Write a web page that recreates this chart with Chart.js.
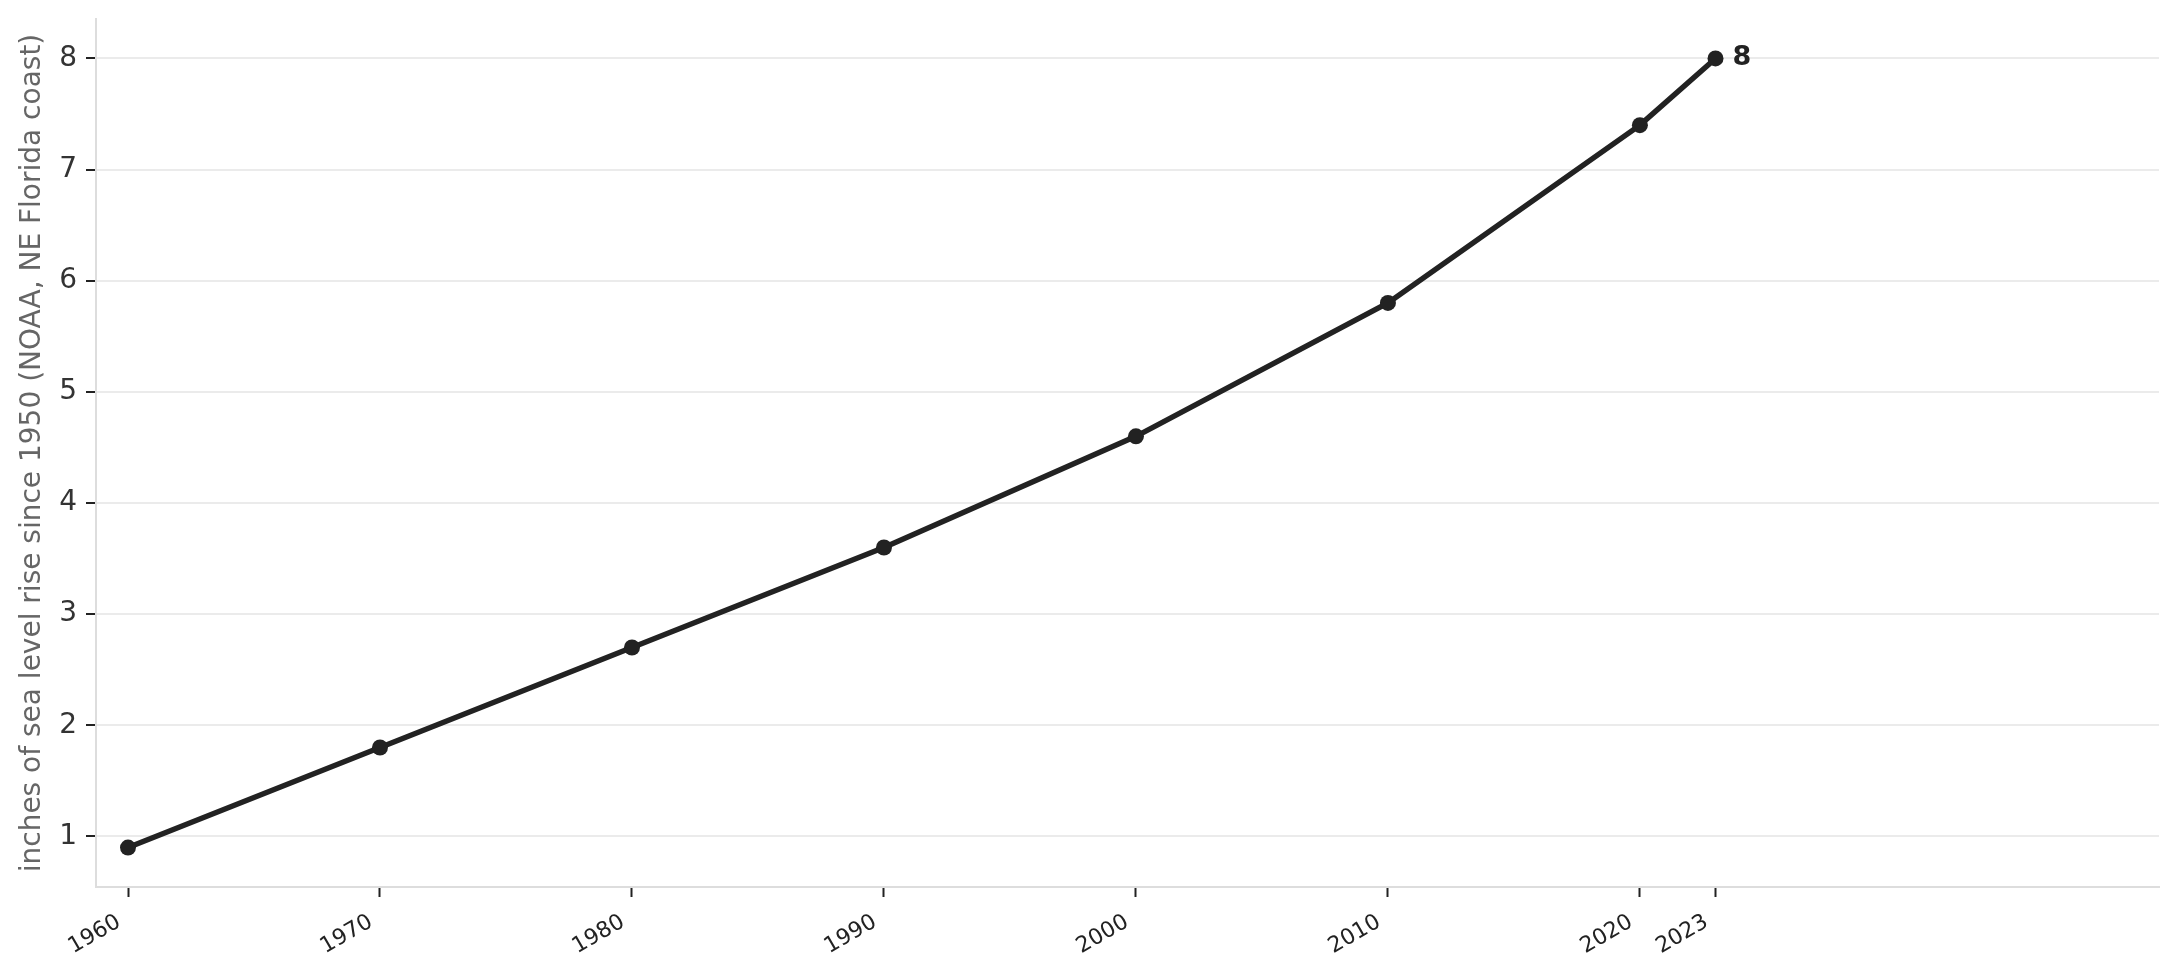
<!DOCTYPE html>
<html>
<head>
<meta charset="utf-8">
<script src="https://cdn.jsdelivr.net/npm/chart.js@4/dist/chart.umd.min.js"></script>
<style>
html,body{margin:0;padding:0;background:#fff;}
#wrap{width:2179px;height:980px;position:relative;}
</style>
</head>
<body>
<div id="wrap"><canvas id="c" width="2179" height="980"></canvas></div>
<script>
const years = [1960, 1970, 1980, 1990, 2000, 2010, 2020, 2023];
const riseInches = [0.9, 1.8, 2.7, 3.6, 4.6, 5.8, 7.4, 8.0];
const yTickValues = [1, 2, 3, 4, 5, 6, 7, 8];
const yTitle = 'inches of sea level rise since 1950 (NOAA, NE Florida coast)';

const FONT = "'DejaVu Sans', sans-serif";

const endLabel = {
  id: 'endLabel',
  afterDatasetsDraw(chart) {
    const {ctx, scales} = chart;
    const i = years.length - 1;
    const x = scales.x.getPixelForValue(years[i]);
    const y = scales.y.getPixelForValue(riseInches[i]);
    ctx.save();
    ctx.font = "bold 27px " + FONT;
    ctx.fillStyle = '#222';
    ctx.textAlign = 'left';
    ctx.textBaseline = 'middle';
    ctx.fillText(String(Math.round(riseInches[i] * 10) / 10), x + 17, y);
    ctx.restore();
  }
};

// anchor rotated x labels at their top-right corner (matplotlib style)
const labelAnchor = {
  id: 'labelAnchor',
  beforeDraw(chart) {
    const items = chart.scales.x.getLabelItems();
    items.forEach(it => {
      const t = it.options.translation;
      t[0] -= 9;
      t[1] += 8;
    });
  }
};

new Chart(document.getElementById('c'), {
  type: 'line',
  data: {
    datasets: [{
      data: years.map((yr, i) => ({x: yr, y: riseInches[i]})),
      borderColor: '#222',
      backgroundColor: '#222',
      borderWidth: 5.5,
      pointRadius: 8,
      pointBorderWidth: 0,
      pointBackgroundColor: '#222',
      tension: 0,
      fill: false
    }]
  },
  options: {
    responsive: false,
    animation: false,
    layout: {padding: {left: 0, right: 20, top: 19, bottom: 0}},
    plugins: {legend: {display: false}, tooltip: {enabled: false}},
    scales: {
      x: {
        type: 'linear',
        min: 1958.73,
        max: 2040.6,
        afterBuildTicks(s) { s.ticks = years.map(v => ({value: v})); },
        afterFit(s) { s.height = 93; s.paddingLeft = 0; s.paddingRight = 0; },
        border: {color: '#dddddd', width: 2},
        grid: {drawOnChartArea: false, drawTicks: true, tickLength: 10, tickColor: '#222', tickWidth: 2},
        ticks: {
          autoSkip: false,
          minRotation: 30,
          maxRotation: 30,
          padding: 4,
          color: '#222',
          font: {family: FONT, size: 22},
          callback: v => String(v)
        }
      },
      y: {
        type: 'linear',
        min: 0.545,
        max: 8.355,
        afterBuildTicks(s) { s.ticks = yTickValues.map(v => ({value: v})); },
        afterFit(s) { s.width = 96; s.paddingTop = 0; s.paddingBottom = 0; },
        border: {color: '#dddddd', width: 2},
        grid: {color: '#ebebeb', lineWidth: 2, drawTicks: true, tickLength: 10, tickColor: '#222', tickWidth: 2},
        ticks: {
          padding: 9,
          color: '#333',
          font: {family: FONT, size: 28},
          callback: v => String(v)
        },
        title: {
          display: true,
          text: yTitle,
          color: '#666',
          font: {family: FONT, size: 28},
          padding: {top: 16, bottom: 0}
        }
      }
    }
  },
  plugins: [labelAnchor, endLabel]
});
</script>
</body>
</html>
